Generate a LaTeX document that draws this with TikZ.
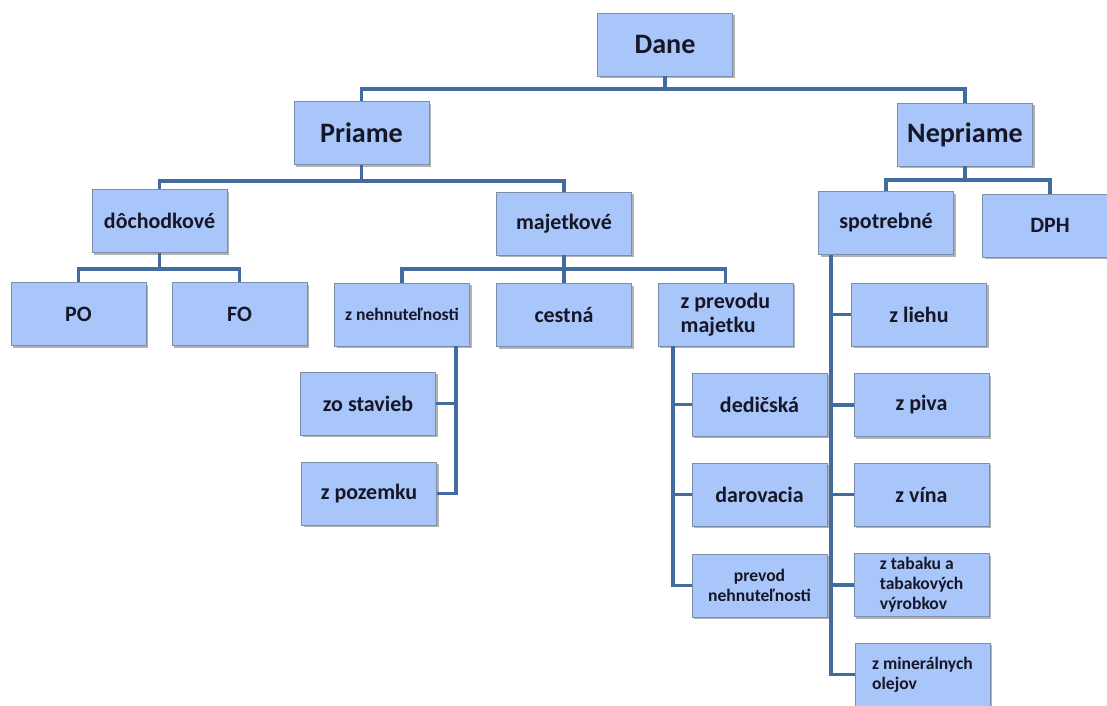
\documentclass[tikz,border=0pt]{standalone}
\usepackage{fontspec}
\setmainfont{Carlito}
\usetikzlibrary{calc}
\usetikzlibrary{shadows}
\usepackage{xcolor}

\definecolor{boxfill}{RGB}{168,198,250}
\definecolor{boxline}{RGB}{125,142,170}
\definecolor{connblue}{RGB}{66,108,160}
\definecolor{textdark}{RGB}{22,22,38}

\tikzset{
  box/.style={draw=boxline, line width=.5pt, fill=boxfill, text=textdark,
    minimum width=2.7cm, minimum height=1.26cm, inner sep=2pt,
    font=\bfseries\fontsize{12.5}{14}\selectfont, align=center,
    drop shadow={shadow xshift=1.2pt, shadow yshift=-1.2pt, fill=black, opacity=.3}},
  topbox/.style={box, font=\bfseries\fontsize{16}{18}\selectfont},
  smallbox/.style={box, font=\bfseries\fontsize{10}{11.5}\selectfont},
  conn/.style={connblue, line width=2.2pt},
}

\begin{document}
\begin{tikzpicture}[x=0.02cm, y=-0.02cm]
\useasboundingbox (0,0) rectangle (1107,706);
% top levels
\node[topbox] (dane) at (665,44.5) {Dane};
\node[topbox] (priame) at (361.5,133) {Priame};
\node[topbox] (nepriame) at (965,134.5) {Nepriame};
\node[box] (dochod) at (159.5,221) {dôchodkové};
\node[box] (majet) at (564,223.5) {majetkové};
\node[box] (spotreb) at (886,223) {spotrebné};
\node[box] (dph) at (1050,225.5) {DPH};
% third row
\node[box] (po) at (78.5,314) {PO};
\node[box] (fo) at (239.5,314) {FO};
\node[smallbox] (nehn) at (402,314.5) {z nehnuteľnosti};
\node[box] (cestna) at (564,315) {cestná};
\node[box, align=left] (prevod) at (725.5,314.5) {z prevodu\\majetku};
% below z nehnutelnosti
\node[box] (zstav) at (368,403.5) {zo stavieb};
\node[box] (zpoz) at (369,493.5) {z pozemku};
% below z prevodu majetku
\node[box] (dedic) at (759.5,404.5) {dedičská};
\node[box] (darov) at (759.5,494.5) {darovacia};
\node[smallbox] (prevnehn) at (759.5,585.5) {prevod\\nehnuteľnosti};
% below spotrebne
\node[box] (zlieh) at (919,314.5) {z liehu};
\node[box] (zpiva) at (921.5,405) {z piva};
\node[box] (zvina) at (921.5,494.5) {z vína};
\node[smallbox, align=left] (ztab) at (921.5,585) {z tabaku a\\tabakových\\výrobkov};
\node[smallbox, align=left] (zmin) at (922.5,674.5) {z minerálnych\\olejov};

\draw[conn] (dane.south) -- ++(0,13) -| (priame.north);
\draw[conn] (dane.south) -- ++(0,13) -| (nepriame.north);
\draw[conn] (priame.south) -- ++(0,16) -| (dochod.north);
\draw[conn] (priame.south) -- ++(0,16) -| (majet.north);
\draw[conn] (nepriame.south) -- ++(0,14) -| (spotreb.north);
\draw[conn] (nepriame.south) -- ++(0,14) -| (dph.north);
\draw[conn] (dochod.south) -- ++(0,16) -| (po.north);
\draw[conn] (dochod.south) -- ++(0,16) -| (fo.north);
\draw[conn] (majet.south) -- ++(0,14) -| (nehn.north);
\draw[conn] (majet.south) -- (cestna.north);
\draw[conn] (majet.south) -- ++(0,14) -| (prevod.north);

\coordinate (nehnbar) at ($(nehn.south east)+(-14,0)$);
\draw[conn] (nehnbar) |- (zpoz.east);
\draw[conn] (zstav.east) -| (nehnbar);

\coordinate (prevbar) at ($(prevod.south west)+(15,0)$);
\draw[conn] (prevbar) |- (prevnehn.west);
\draw[conn] (dedic.west) -| (prevbar);
\draw[conn] (darov.west) -| (prevbar);

\coordinate (spotbar) at ($(spotreb.south west)+(13,0)$);
\draw[conn] (spotbar) |- (zmin.west);
\draw[conn] (zlieh.west) -| (spotbar);
\draw[conn] (zpiva.west) -| (spotbar);
\draw[conn] (zvina.west) -| (spotbar);
\draw[conn] (ztab.west) -| (spotbar);
\end{tikzpicture}
\end{document}
